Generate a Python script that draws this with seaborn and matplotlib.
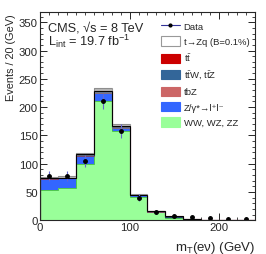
import matplotlib
matplotlib.use("Agg")
import matplotlib.pyplot as plt
import seaborn as sns
import pandas as pd
import numpy as np
from matplotlib.patches import Patch
from matplotlib.lines import Line2D
from matplotlib.ticker import MultipleLocator

# --- binned mT(e nu) distribution, 20 GeV bins ---
bin_edges = [0, 20, 40, 60, 80, 100, 120, 140, 160, 180, 200, 220, 240]
bin_centers = [10, 30, 50, 70, 90, 110, 130, 150, 170, 190, 210, 230]

# stacked backgrounds (bottom -> top)
ww_wz_zz = [54, 58, 100, 210, 158, 40.5, 14, 5, 2, 1, 0.7, 0.5]
z_gamma = [19, 16, 14, 15, 5, 3.5, 1.5, 0.3, 0.2, 0, 0, 0]
tbz = [0.3, 0.3, 0.5, 0.6, 0.5, 0.3, 0.1, 0.1, 0, 0, 0, 0]
ttv = [1.0, 1.0, 1.5, 2.0, 1.5, 0.8, 0.3, 0.2, 0.1, 0, 0, 0]
ttbar = [0.3, 0.3, 0.5, 0.5, 1.0, 0.3, 0.2, 2.0, 0.3, 0.1, 0, 0]
tzq = [2.0, 2.0, 3.0, 5.0, 4.0, 1.0, 0.5, 0.3, 0.2, 0.1, 0, 0]

data = [79, 78, 105, 210, 158, 40, 15, 8, 6, 5, 2, 2]
data_err = [9, 9, 10, 14, 12, 6, 4, 3, 2.5, 2.2, 1.4, 1.4]

procs = ["WW, WZ, ZZ", "Z/g -> ll", "tbZ", "ttW, ttZ", "tt", "t->Zq"]
colors = ["#99ff99", "#3366ff", "#cc6666", "#336699", "#cc0000", "#ffffff"]
edges = ["#44bb44", "#1144cc", "#aa4444", "#113366", "#aa0000", "#999999"]
widths = [0.6, 0.6, 0.5, 0.8, 0.8, 0.8]
labels = [r"WW, WZ, ZZ", "Z/\u03b3*\u2192l\u207al\u207b", "tbZ",
          r"$t\bar{t}$W, $t\bar{t}$Z", r"$t\bar{t}$", "t\u2192Zq (B=0.1%)"]

rows = []
for p, vals in zip(procs, [ww_wz_zz, z_gamma, tbz, ttv, ttbar, tzq]):
    for c, v in zip(bin_centers, vals):
        rows.append({"mT": c, "w": v, "proc": p})
df = pd.DataFrame(rows)

sns.set_theme(style="ticks")
plt.rcParams['font.family'] = ['Liberation Sans', 'DejaVu Sans']
plt.rcParams['mathtext.fontset'] = 'custom'
plt.rcParams['mathtext.rm'] = 'Liberation Sans'
plt.rcParams['mathtext.it'] = 'Liberation Sans'

fig = plt.figure(figsize=(2.66, 2.55), dpi=100)
ax = fig.add_axes([0.150, 0.132, 0.809, 0.817])

# seaborn stacks the first hue level on top, so pass the order reversed
sns.histplot(df, x="mT", weights="w", hue="proc", hue_order=procs[::-1],
             palette=dict(zip(procs, colors)), multiple="stack", bins=bin_edges,
             element="step", alpha=1, linewidth=0, legend=False, ax=ax)

# outlines of each stacked layer
cum = np.zeros(len(bin_centers))
for vals, ec, lw in zip([ww_wz_zz, z_gamma, tbz, ttv, ttbar, tzq], edges, widths):
    cum = cum + np.array(vals)
    ax.stairs(cum, bin_edges, color=ec, linewidth=lw)

# uncertainty band on background
bkg = np.array(ww_wz_zz) + np.array(z_gamma) + np.array(tbz) + np.array(ttv) + np.array(ttbar)
ax.stairs(bkg * 1.025, bin_edges, baseline=bkg * 0.975, fill=True, color="#888888", alpha=0.6, linewidth=0)
ax.stairs(bkg, bin_edges, color="black", linewidth=0.7)

ax.errorbar(bin_centers, data, yerr=data_err, fmt="o", color="black", ms=2.5,
            ecolor="#6666cc", elinewidth=0.8, capsize=0)

ax.set_xlim(0, 240)
ax.set_ylim(0, 368)
ax.xaxis.set_major_locator(MultipleLocator(100))
ax.xaxis.set_minor_locator(MultipleLocator(10))
ax.yaxis.set_major_locator(MultipleLocator(50))
ax.yaxis.set_minor_locator(MultipleLocator(10))
ax.tick_params(which="both", direction="in", top=True, right=True, labelsize=8.2, pad=1.5)
ax.tick_params(which="major", length=5, width=0.7)
ax.tick_params(which="minor", length=2.5, width=0.6)
for s in ax.spines.values():
    s.set_linewidth(0.8)

ax.set_ylabel("Events / 20 (GeV)", fontsize=7.8)
ax.yaxis.label.set_rotation_mode("anchor")
ax.yaxis.label.set_ha("right")
ax.yaxis.label.set_va("center")
ax.yaxis.set_label_coords(-0.135, 0.995)
ax.set_xlabel(r"m$_{T}$(e$\nu$) (GeV)", fontsize=9.5, ha="right")
ax.xaxis.set_label_coords(1.0, -0.09)

ax.text(0.036, 0.912, "CMS, \u221as = 8 TeV", transform=ax.transAxes, fontsize=9.2, va="baseline")
ax.text(0.036, 0.840, r"L$_{\rm int}$ = 19.7 fb$^{-1}$", transform=ax.transAxes, fontsize=9.2, va="baseline")

handles = [Line2D([0], [0], color="#333399", marker="o", ms=2, mfc="black", mec="black", lw=0.8)]
for c in colors[::-1]:
    handles.append(Patch(facecolor=c, edgecolor="#999999" if c == "#ffffff" else c, linewidth=0.8))
leg = ax.legend(handles, ["Data"] + labels[::-1], loc="upper left",
                bbox_to_anchor=(0.545, 0.975), frameon=False, fontsize=6.8,
                handlelength=2.0, handleheight=1.15, labelspacing=0.58,
                handletextpad=0.4, borderaxespad=0)

fig.savefig("out.png", dpi=100)
